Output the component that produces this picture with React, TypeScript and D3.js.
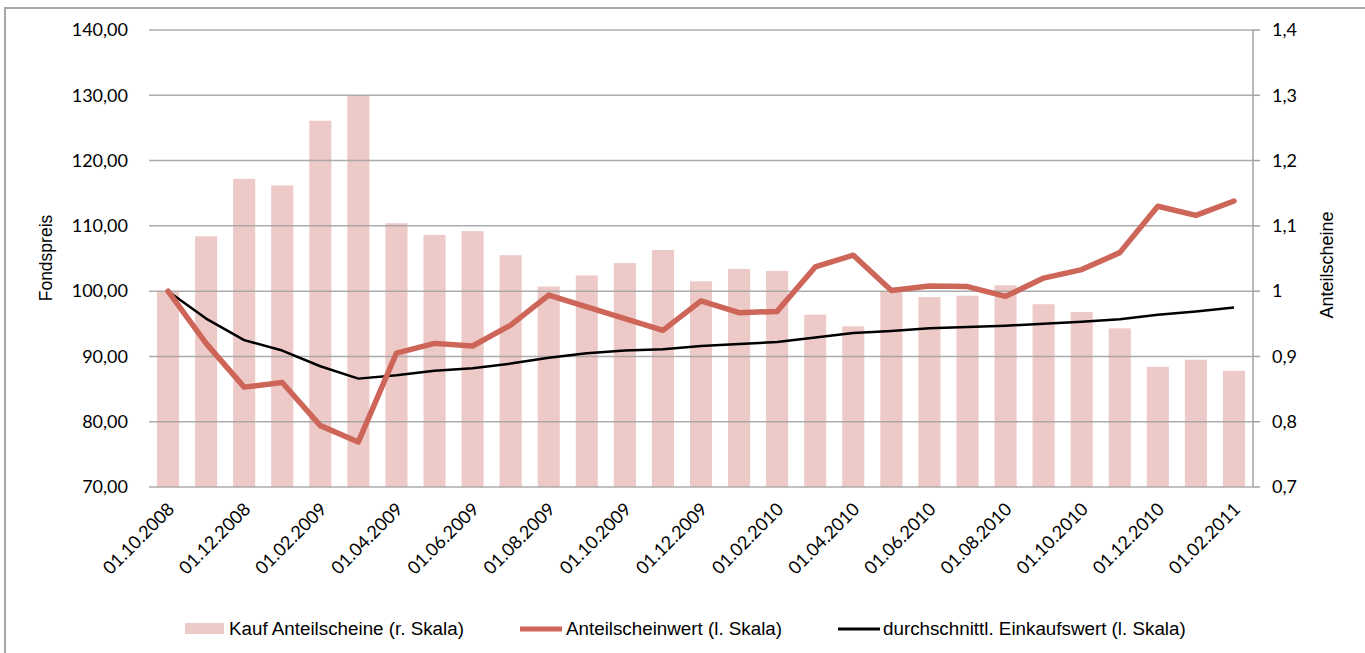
import React from "react";
import * as d3 from "d3";

const dates = [
  "01.10.2008", "01.11.2008", "01.12.2008", "01.01.2009", "01.02.2009", "01.03.2009",
  "01.04.2009", "01.05.2009", "01.06.2009", "01.07.2009", "01.08.2009", "01.09.2009",
  "01.10.2009", "01.11.2009", "01.12.2009", "01.01.2010", "01.02.2010", "01.03.2010",
  "01.04.2010", "01.05.2010", "01.06.2010", "01.07.2010", "01.08.2010", "01.09.2010",
  "01.10.2010", "01.11.2010", "01.12.2010", "01.01.2011", "01.02.2011",
];

// Kauf Anteilscheine (r. Skala)
const kauf = [
  1.0, 1.084, 1.172, 1.162, 1.261, 1.3, 1.104, 1.086, 1.092, 1.055, 1.007, 1.024,
  1.043, 1.063, 1.015, 1.034, 1.031, 0.964, 0.946, 1.0, 0.991, 0.993, 1.009, 0.98,
  0.968, 0.943, 0.884, 0.895, 0.878,
];

// Anteilscheinwert (l. Skala)
const wert = [
  100, 92.0, 85.3, 86.0, 79.4, 76.9, 90.5, 92.0, 91.6, 94.8, 99.4, 97.6,
  95.8, 94.0, 98.5, 96.7, 96.9, 103.7, 105.5, 100.1, 100.8, 100.7, 99.2, 102.0,
  103.3, 105.9, 113.0, 111.6, 113.8,
];

// durchschnittl. Einkaufswert (l. Skala)
const einkauf = [
  100, 95.8, 92.5, 90.9, 88.5, 86.6, 87.1, 87.8, 88.2, 88.9, 89.8, 90.5,
  90.9, 91.1, 91.6, 91.9, 92.2, 92.9, 93.6, 93.9, 94.3, 94.5, 94.7, 95.0,
  95.3, 95.7, 96.4, 96.9, 97.5,
];

const leftTicks = [70, 80, 90, 100, 110, 120, 130, 140];
const rightTicks = [0.7, 0.8, 0.9, 1.0, 1.1, 1.2, 1.3, 1.4];

const W = 1365;
const H = 653;
const plot = { left: 149, right: 1253, top: 30, bottom: 487 };

const barColor = "#edc9c7";
const redColor = "#cd6559";
const gridColor = "#a3a3a3";
const tickFont = "Lato, 'Open Sans', sans-serif";
const labelFont = "'Liberation Sans', Arial, sans-serif";

function App() {
  const x = d3
    .scaleBand<string>()
    .domain(dates)
    .range([plot.left, plot.right])
    .paddingInner(0.42)
    .paddingOuter(0.21);
  const yL = d3.scaleLinear().domain([70, 140]).range([plot.bottom, plot.top]);
  const yR = d3.scaleLinear().domain([0.7, 1.4]).range([plot.bottom, plot.top]);
  const cx = (i: number) => (x(dates[i]) as number) + x.bandwidth() / 2;

  const line = d3
    .line<number>()
    .x((_, i) => cx(i))
    .y((d) => yL(d));

  const fmtL = (v: number) => v.toFixed(2).replace(".", ",");
  const fmtR = (v: number) => (v === 1 ? "1" : v.toFixed(1).replace(".", ","));

  return (
    <div style={{ position: "absolute", left: 0, top: 0 }}>
      <svg width={W} height={H} style={{ display: "block", background: "#fff" }}>
        <rect x={5} y={8} width={W} height={H} fill="#fff" stroke="#a6a6a6" strokeWidth={2} />

        {/* bars */}
        {kauf.map((v, i) => (
          <rect
            key={dates[i]}
            x={x(dates[i])}
            y={yR(v)}
            width={x.bandwidth()}
            height={plot.bottom - yR(v)}
            fill={barColor}
          />
        ))}

        {/* gridlines */}
        {leftTicks.map((t) => (
          <line
            key={t}
            x1={plot.left}
            x2={plot.right}
            y1={yL(t)}
            y2={yL(t)}
            stroke={gridColor}
            strokeOpacity={0.9}
            strokeWidth={1.5}
          />
        ))}

        {/* right axis */}
        <line x1={plot.right} x2={plot.right} y1={plot.top} y2={plot.bottom} stroke={gridColor} strokeWidth={1.5} />
        {rightTicks.map((t) => (
          <line key={t} x1={plot.right} x2={plot.right + 7} y1={yR(t)} y2={yR(t)} stroke={gridColor} strokeWidth={1.5} />
        ))}

        {/* lines */}
        <path d={line(einkauf) ?? ""} fill="none" stroke="#000" strokeWidth={2.5} strokeLinejoin="round" />
        <path d={line(wert) ?? ""} fill="none" stroke={redColor} strokeWidth={5.5} strokeLinejoin="round" strokeLinecap="round" />

        {/* left tick labels */}
        {leftTicks.map((t) => (
          <text
            key={t}
            x={128}
            y={yL(t)}
            dy="0.35em"
            textAnchor="end"
            fontFamily={tickFont}
            fontSize={18}
            fill="#000"
          >
            {fmtL(t)}
          </text>
        ))}

        {/* right tick labels */}
        {rightTicks.map((t) => (
          <text
            key={t}
            x={1272}
            y={yR(t)}
            dy="0.35em"
            textAnchor="start"
            fontFamily={tickFont}
            fontSize={18}
            fill="#000"
          >
            {fmtR(t)}
          </text>
        ))}

        {/* x labels */}
        {dates.map((d, i) =>
          i % 2 === 0 ? (
            <text
              key={d}
              transform={`translate(${cx(i) + 3},${plot.bottom + 19}) rotate(-45)`}
              textAnchor="end"
              fontFamily={tickFont}
              fontSize={18}
              fill="#000"
              dy="0.35em"
            >
              {d}
            </text>
          ) : null
        )}

        {/* axis titles */}
        <text
          transform={`translate(52,258) rotate(-90)`}
          textAnchor="middle"
          fontFamily={labelFont}
          fontSize={17.5}
        >
          Fondspreis
        </text>
        <text
          transform={`translate(1333,265) rotate(-90)`}
          textAnchor="middle"
          fontFamily={labelFont}
          fontSize={18}
        >
          Anteilscheine
        </text>

        {/* legend */}
        <g fontFamily={labelFont} fontSize={18.8}>
          <rect x={185} y={623} width={39} height={11} fill={barColor} />
          <text x={229} y={635}>Kauf Anteilscheine (r. Skala)</text>
          <line x1={520} x2={562} y1={629} y2={629} stroke={redColor} strokeWidth={5} />
          <text x={566} y={635}>Anteilscheinwert (l. Skala)</text>
          <line x1={838} x2={880} y1={629} y2={629} stroke="#000" strokeWidth={3} />
          <text x={883} y={635}>durchschnittl. Einkaufswert (l. Skala)</text>
        </g>
      </svg>
    </div>
  );
}

export default App;
